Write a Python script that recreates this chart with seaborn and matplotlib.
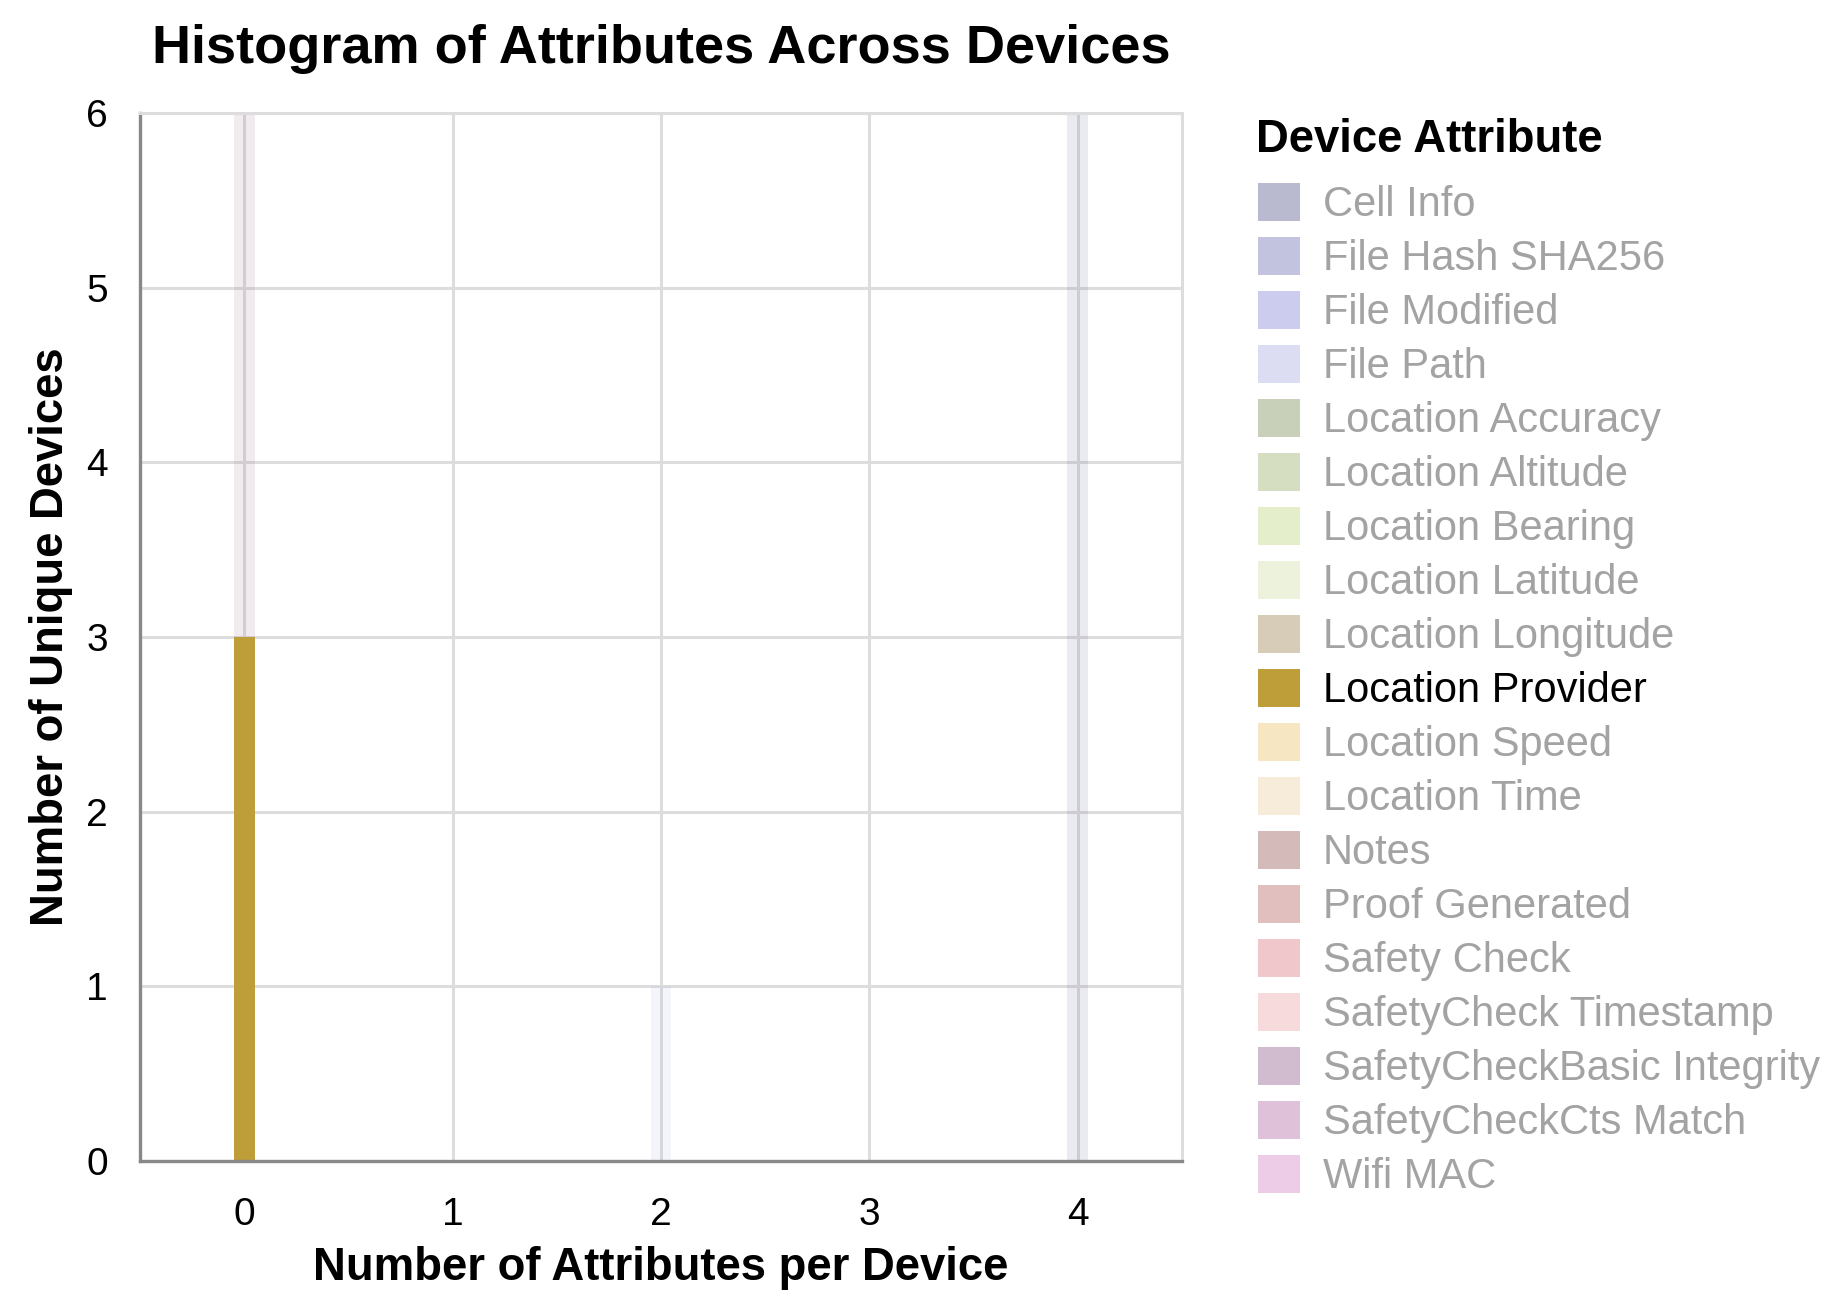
import matplotlib
matplotlib.use("Agg")
import matplotlib.pyplot as plt
from matplotlib.patches import Patch
from matplotlib.colors import to_rgb
import seaborn as sns
import pandas as pd

# ---- data ----
attributes = [
    "Cell Info", "File Hash SHA256", "File Modified", "File Path",
    "Location Accuracy", "Location Altitude", "Location Bearing",
    "Location Latitude", "Location Longitude", "Location Provider",
    "Location Speed", "Location Time", "Notes", "Proof Generated",
    "Safety Check", "SafetyCheck Timestamp", "SafetyCheckBasic Integrity",
    "SafetyCheckCts Match", "Wifi MAC",
]
colors = [
    "#393b79", "#5254a3", "#6b6ecf", "#9c9ede", "#637939", "#8ca252",
    "#b5cf6b", "#cedb9c", "#8c6d31", "#bd9e39", "#e7ba52", "#e7cb94",
    "#843c39", "#ad494a", "#d6616b", "#e7969c", "#7b4173", "#a55194",
    "#ce6dbd",
]
highlight = "Location Provider"

bin_values = [0, 0, 2, 4]
bin_attribute = ["Location Provider", "SafetyCheckBasic Integrity", "File Path", "Cell Info"]
bin_devices = [3, 3, 1, 6]

x_ticks = [0, 1, 2, 3, 4]
y_ticks = [0, 1, 2, 3, 4, 5, 6]

title = "Histogram of Attributes Across Devices"
x_title = "Number of Attributes per Device"
y_title = "Number of Unique Devices"
legend_title = "Device Attribute"

# ---- style ----
sns.set_theme(style="white")
plt.rcParams["font.family"] = ["Liberation Sans", "DejaVu Sans"]
plt.rcParams["text.color"] = "black"
plt.rcParams["axes.labelcolor"] = "black"

df = pd.DataFrame({"n_attributes": bin_values, "attribute": bin_attribute, "devices": bin_devices})
palette = dict(zip(attributes, colors))
present = [a for a in attributes if a in set(bin_attribute)]

W, H = 1842, 1308
fig = plt.figure(figsize=(W / 200, H / 200), dpi=200)
L, R, T, B = 140, 1182, 113, 1161
ax = fig.add_axes([L / W, 1 - B / H, (R - L) / W, (B - T) / H])

sns.histplot(data=df, x="n_attributes", weights="devices", hue="attribute",
             hue_order=present[::-1], palette=palette, multiple="stack",
             discrete=True, shrink=0.1, linewidth=0, alpha=1, legend=False, ax=ax)

hl_rgb = to_rgb(palette[highlight])
for p in ax.patches:
    fc = p.get_facecolor()[:3]
    if all(abs(a - b) < 1e-3 for a, b in zip(fc, hl_rgb)):
        p.set_alpha(1.0)
    else:
        p.set_alpha(0.1)

ax.set_xlim(-0.5, 4.5)
ax.set_ylim(0, 6)
ax.set_xticks(x_ticks)
ax.set_yticks(y_ticks)
ax.grid(True, color="#dddddd", linewidth=1.1)
ax.set_axisbelow(True)
for s in ["left", "bottom"]:
    ax.spines[s].set_color("#888888")
    ax.spines[s].set_linewidth(1.2)
for s in ["top", "right"]:
    ax.spines[s].set_color("#dddddd")
    ax.spines[s].set_linewidth(1.1)
ax.tick_params(axis="both", length=7.9, width=1.4, color="#888888",
               labelsize=14, labelcolor="black")
ax.tick_params(axis="x", pad=5)
ax.tick_params(axis="y", pad=3.6)

ax.set_xlabel(x_title, fontsize=16.4, fontweight="bold", color="black")
ax.set_ylabel(y_title, fontsize=16.4, fontweight="bold", color="black")
ax.xaxis.label.set_verticalalignment("center")
ax.yaxis.label.set_verticalalignment("center")
ax.xaxis.set_label_coords(0.5, (B - 1268) / (B - T))
ax.yaxis.set_label_coords((51 - L) / (R - L), 0.5)

fig.text((L + R) / 2 / W, 1 - 49 / H, title, fontsize=19.5, fontweight="bold",
         ha="center", va="center", color="black")

fig.text(1256 / W, 1 - 140 / H, legend_title, fontsize=16.4, fontweight="bold",
         ha="left", va="center", color="black")
handles = [Patch(facecolor=palette[a], alpha=1.0 if a == highlight else 0.35, linewidth=0)
           for a in attributes]
leg = fig.legend(handles, attributes, loc="upper left",
                 bbox_to_anchor=(1258 / W, 1 - 183.5 / H), frameon=False, fontsize=15,
                 handlelength=1.0, handleheight=1.0, handletextpad=0.55,
                 labelspacing=0.29, borderpad=0, borderaxespad=0)
for t, a in zip(leg.get_texts(), attributes):
    t.set_color("black" if a == highlight else "#a3a3a3")

fig.savefig("out.png", dpi=200)
